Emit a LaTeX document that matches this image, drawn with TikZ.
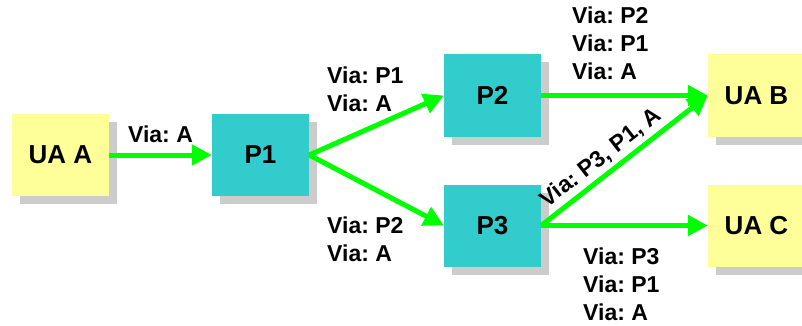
\documentclass[tikz,border=0pt]{standalone}
\usepackage{fontspec}
\setmainfont{Liberation Sans}
\usetikzlibrary{arrows.meta,shadows}
\definecolor{px}{RGB}{51,204,204}
\definecolor{ua}{RGB}{255,255,153}
\definecolor{gr}{RGB}{0,255,0}
\definecolor{sh}{RGB}{204,204,204}
\frenchspacing

\begin{document}
\begin{tikzpicture}[x=1pt,y=-1pt,
    box/.style={rectangle,minimum width=97pt,minimum height=82pt,inner sep=0pt,font=\fontsize{26}{30}\selectfont\bfseries,drop shadow={shadow xshift=8pt,shadow yshift=-8pt,fill=sh,opacity=1}},
    lbl/.style={font=\fontsize{23}{28}\selectfont\bfseries,align=left,inner sep=0pt,text=black},
    arr/.style={-{Triangle[length=20pt,width=20pt]},line width=5pt,gr},
]
\clip (0,0) rectangle (802,326);

% User agents
\node[box,fill=ua] (uaa) at (60.5,155) {UA A};
\node[box,fill=ua] (uab) at (756.5,95.5) {UA B};
\node[box,fill=ua] (uac) at (756.5,225.5) {UA C};

% Proxies
\node[box,fill=px] (p1) at (260.5,155) {P1};
\node[box,fill=px] (p2) at (492.5,95.5) {P2};
\node[box,fill=px] (p3) at (492.5,225.5) {P3};

% Via headers
\node[lbl,anchor=north west] (v12) at (327,67) {Via: P1\\Via: A};
\node[lbl,anchor=north west] (v13) at (327,217) {Via: P2\\Via: A};
\node[lbl,anchor=north west] (v2b) at (572,7) {Via: P2\\Via: P1\\Via: A};
\node[lbl,anchor=north west] (v3c) at (583,248) {Via: P3\\Via: P1\\Via: A};

% Arrows
\draw[arr] (uaa) -- node[lbl,above=10pt] {Via: A} (p1);
\draw[arr] (p1.east) -- (p2.west);
\draw[arr] (p1.east) -- (p3.west);
\draw[arr] (p2) -- (uab);
\draw[arr] (p3.east) -- node[lbl,pos=0.42,above=4pt,sloped] {Via: P3, P1, A} (uab.west);
\draw[arr] (p3) -- (uac);
\end{tikzpicture}
\end{document}
